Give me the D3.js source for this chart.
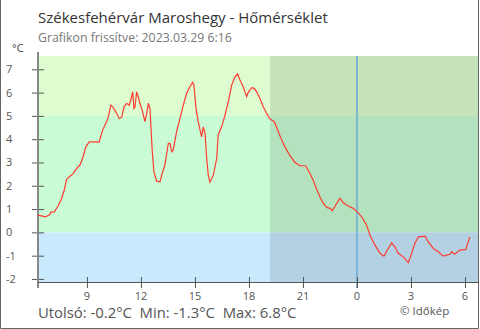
<!DOCTYPE html>
<html><head><meta charset="utf-8">
<script src="https://cdn.jsdelivr.net/npm/d3@7"></script>
<style>
html,body{margin:0;padding:0;background:#fff;}
svg{display:block;font-family:"Open Sans",sans-serif;}
</style></head>
<body><svg id="c" width="480" height="329"></svg>
<script>
// ---- data ----
const title = "Székesfehérvár Maroshegy - Hőmérséklet";
const subtitle = "Grafikon frissítve: 2023.03.29 6:16";
const footer = "Utolsó: -0.2°C  Min: -1.3°C  Max: 6.8°C";
const credit = "© Időkép";
const unit = "°C";
// hours since midnight of 2023-03-28
const hours = [6.27,6.54,6.68,6.91,7.00,7.18,7.37,7.56,7.74,7.87,8.02,8.21,8.43,8.61,8.76,8.94,9.13,9.68,9.87,10.15,
10.33,10.43,10.65,10.79,10.94,11.06,11.21,11.35,11.48,11.54,11.61,11.67,11.76,11.85,11.94,12.09,12.22,12.32,12.41,12.50,
12.56,12.63,12.72,12.87,13.06,13.15,13.33,13.52,13.61,13.71,13.79,13.98,14.17,14.35,14.54,14.72,14.87,14.94,15.06,15.18,
15.37,15.46,15.56,15.65,15.74,15.83,16.02,16.21,16.29,16.48,16.67,16.85,17.04,17.22,17.37,17.50,17.68,17.87,17.96,18.15,
18.29,18.43,18.61,18.79,18.98,19.17,19.41,19.63,19.82,20.00,20.28,20.56,20.83,21.15,21.39,21.57,21.76,21.94,22.13,22.32,
22.50,22.63,22.87,23.06,23.24,23.52,23.79,24.02,24.26,24.54,24.72,25.00,25.28,25.50,25.74,25.93,26.11,26.29,26.57,26.85,
27.04,27.22,27.41,27.78,27.96,28.24,28.52,28.79,29.17,29.26,29.44,29.72,30.05,30.18,30.27];
const temps = [0.74,0.70,0.67,0.74,0.87,0.88,1.10,1.39,1.82,2.27,2.39,2.50,2.75,2.89,3.18,3.67,3.88,3.88,4.39,4.85,
5.46,5.39,5.11,4.88,4.96,5.39,5.54,5.46,5.82,6.03,5.32,5.39,6.03,5.82,5.54,5.18,4.75,5.11,5.54,5.32,
4.46,3.46,2.60,2.20,2.17,2.46,2.89,3.82,3.82,3.46,3.53,4.32,4.89,5.46,5.97,6.25,6.44,6.32,5.32,4.75,
4.10,4.53,4.25,3.18,2.46,2.15,2.46,3.18,4.18,4.53,5.03,5.60,6.32,6.68,6.80,6.54,6.25,5.82,6.01,6.21,
6.18,6.03,5.75,5.39,5.11,4.86,4.75,4.32,3.96,3.67,3.29,3.00,2.86,2.86,2.53,2.24,1.85,1.53,1.24,1.07,
1.03,0.93,1.24,1.46,1.27,1.13,1.03,0.88,0.67,0.31,-0.12,-0.55,-0.90,-1.02,-0.69,-0.45,-0.62,-0.90,-1.05,-1.30,
-0.90,-0.47,-0.19,-0.16,-0.40,-0.69,-0.83,-1.02,-0.94,-0.83,-0.94,-0.76,-0.73,-0.40,-0.20];
const xTicks = [9,12,15,18,21,24,27,30];
const xTickLabels = ["9","12","15","18","21","0","3","6"];
const yTicks = [-2,-1,0,1,2,3,4,5,6,7];
const bands = [{from:5,to:7.57,color:"#ddfdd0"},{from:0,to:5,color:"#c9fcd5"},{from:-2.13,to:0,color:"#c9e9fd"}];
const nightStart = 19.17;
const midnight = 24;

// ---- layout ----
const svg = d3.select("#c");
const L=38, R=479, T=56, B=282;
const x = d3.scaleLinear().domain([6.28,30.78]).range([L,R]);
const y = d3.scaleLinear().domain([-2.13,7.57]).range([B,T]);

// border
svg.append("path").attr("d",`M0.5,0V328.5H478.5V0`).attr("fill","none").attr("stroke","#666").attr("stroke-width",1);

// bands
svg.selectAll("rect.band").data(bands).enter().append("rect")
  .attr("x",L).attr("width",R-L-1)
  .attr("y",d=>y(d.to)).attr("height",d=>y(d.from)-y(d.to))
  .attr("fill",d=>d.color);
// night shade
svg.append("rect").attr("x",x(nightStart)).attr("width",R-1-x(nightStart))
  .attr("y",T).attr("height",B-T).attr("fill","rgba(0,0,0,0.1)");

// midnight line
svg.append("line").attr("x1",x(midnight)).attr("x2",x(midnight)).attr("y1",T).attr("y2",B+6)
  .attr("stroke","#6aaad6").attr("stroke-width",1.5);

// axes
const yAxis = d3.axisLeft(y).tickValues(yTicks).tickSize(6).tickFormat("");
const gy = svg.append("g").attr("transform",`translate(${L},0)`).call(yAxis);
gy.select(".domain").remove();
gy.selectAll(".tick line").attr("x1",-6).attr("x2",6).attr("stroke","#555");
svg.append("line").attr("x1",L).attr("x2",L).attr("y1",T-4).attr("y2",B+6).attr("stroke","#888").attr("stroke-width",2);
svg.selectAll("text.yl").data(yTicks).enter().append("text")
  .attr("x",6).attr("y",d=>y(d)+4).attr("font-size",11).attr("fill","#555").text(d=>d);

const xAxis = d3.axisBottom(x).tickValues(xTicks).tickSize(6).tickFormat("");
const gx = svg.append("g").attr("transform",`translate(0,${B})`).call(xAxis);
gx.select(".domain").remove();
gx.selectAll(".tick line").attr("y1",-5).attr("y2",6).attr("stroke","#555");
svg.append("line").attr("x1",L).attr("x2",R).attr("y1",B+0.5).attr("y2",B+0.5).attr("stroke","#555");
svg.selectAll("text.xl").data(xTicks).enter().append("text")
  .attr("x",d=>x(d)).attr("y",B+18).attr("text-anchor","middle").attr("font-size",11).attr("fill","#555")
  .text((d,i)=>xTickLabels[i]);

// line
const data = hours.map((h,i)=>({h,t:temps[i]}));
svg.append("path").datum(data)
  .attr("d",d3.line().x(d=>x(d.h)).y(d=>y(d.t)))
  .attr("fill","none").attr("stroke","#ff3b30").attr("stroke-width",1.2);

// texts
svg.append("text").attr("x",38).attr("y",23).attr("font-size",15).attr("fill","#333").text(title);
svg.append("text").attr("x",38).attr("y",42).attr("font-size",12.3).attr("fill","#777").text(subtitle);
svg.append("text").attr("x",12).attr("y",52).attr("font-size",11).attr("fill","#444").text(unit);
svg.append("text").attr("x",38).attr("y",318).attr("font-size",14.85).attr("fill","#555").attr("xml:space","preserve").style("white-space","pre").text(footer);
svg.append("text").attr("x",400).attr("y",315).attr("font-size",11.5).attr("fill","#555").text(credit);
</script></body></html>
